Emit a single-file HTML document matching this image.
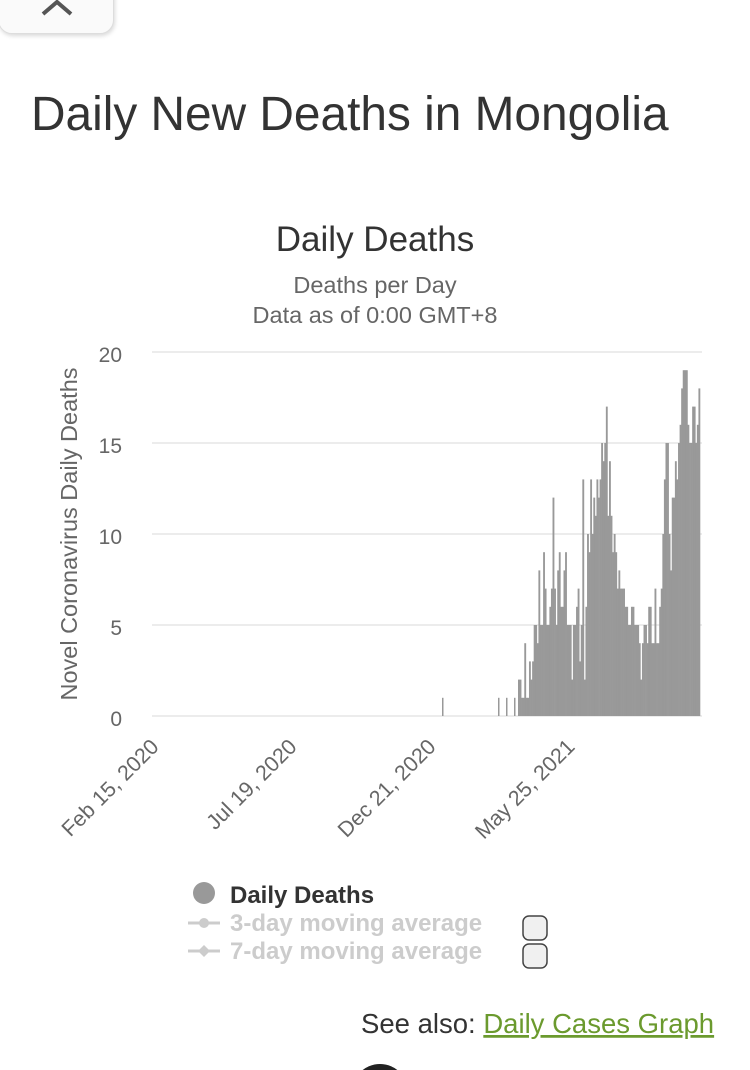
<!DOCTYPE html>
<html><head><meta charset="utf-8"><style>
body{margin:0;width:750px;height:1070px;background:#fff;position:relative;overflow:hidden;font-family:"Liberation Sans",Arial,sans-serif}
.abs{position:absolute;white-space:nowrap}
</style></head><body>
<div class="abs" style="left:-2px;top:-12px;width:114px;height:44px;border:1px solid #ddd;border-radius:0 0 14px 14px;background:#fafafa;box-shadow:1px 2px 4px rgba(0,0,0,.15)"></div>
<svg class="abs" style="left:40px;top:0" width="36" height="20"><polyline points="3,14 17,2 31,14" fill="none" stroke="#555" stroke-width="4"/></svg>
<div class="abs" style="left:31px;top:87px;font-size:47.8px;color:#333">Daily New Deaths in Mongolia</div>
<svg class="abs" style="left:0;top:0" width="750" height="1070" id="c">
<g stroke="#e6e6e6" stroke-width="1.5">
<line x1="152" x2="702" y1="352" y2="352"/><line x1="152" x2="702" y1="443" y2="443"/><line x1="152" x2="702" y1="534" y2="534"/><line x1="152" x2="702" y1="625" y2="625"/><line x1="152" x2="702" y1="716" y2="716"/>
</g>
<g font-size="21" fill="#666" text-anchor="end">
<text x="122" y="362">20</text><text x="122" y="453">15</text><text x="122" y="544">10</text><text x="122" y="635">5</text><text x="122" y="726">0</text>
</g>
<text x="0" y="0" font-size="23.5" fill="#666" text-anchor="middle" transform="translate(77,534) rotate(-90)">Novel Coronavirus Daily Deaths</text>
<text x="375" y="251" font-size="35" fill="#333" text-anchor="middle">Daily Deaths</text>
<text x="375" y="293" font-size="23.5" fill="#666" text-anchor="middle">Deaths per Day</text>
<text x="375" y="323" font-size="23.5" fill="#666" text-anchor="middle">Data as of 0:00 GMT+8</text>
<g font-size="21.5" fill="#666" text-anchor="end">
<text transform="translate(160,748) rotate(-45)">Feb 15, 2020</text>
<text transform="translate(298,748) rotate(-45)">Jul 19, 2020</text>
<text transform="translate(437,748) rotate(-45)">Dec 21, 2020</text>
<text transform="translate(576,748) rotate(-45)">May 25, 2021</text>
</g>
<g id="bars" fill="#999"></g>
<circle cx="204" cy="893" r="11" fill="#999"/>
<text x="230" y="903" font-size="24" font-weight="bold" fill="#333">Daily Deaths</text>
<g stroke="#ccc" stroke-width="3"><line x1="188" x2="220" y1="923" y2="923"/><line x1="188" x2="220" y1="951" y2="951"/></g>
<circle cx="204" cy="923" r="5" fill="#ccc"/><polygon points="204,945 210,951 204,957 198,951" fill="#ccc"/>
<text x="230" y="931" font-size="24" font-weight="bold" fill="#ccc">3-day moving average</text>
<text x="230" y="959" font-size="24" font-weight="bold" fill="#ccc">7-day moving average</text>
<rect x="523" y="916" width="24" height="24" rx="6" fill="#f0f0f0" stroke="#444" stroke-width="1.5"/>
<rect x="523" y="944" width="24" height="24" rx="6" fill="#f0f0f0" stroke="#444" stroke-width="1.5"/>
<text x="361" y="1033" font-size="27.5" fill="#333">See also: <tspan fill="#6b9a2e" text-decoration="underline">Daily Cases Graph</tspan></text>
<circle cx="380" cy="1092" r="28" fill="#222"/>
</svg>
<script>
var v=[2,2,1,1,4,1,1,3,2,3,5,5,4,8,5,5,9,7,5,5,6,7,12,7,5,8,9,6,6,8,9,5,5,5,2,5,5,6,7,3,5,13,2,6,10,9,13,10,12,11,13,12,13,15,14,15,17,11,14,11,9,10,9,7,8,7,7,7,6,6,5,5,6,6,5,5,5,4,2,4,5,5,4,6,6,4,4,7,4,4,6,7,10,13,15,15,10,8,12,12,14,13,15,16,18,19,19,19,16,15,15,17,17,15,16,18];
var g=document.getElementById('bars'),s='',w=182/v.length;
function b(x,wd,val){s+='<rect x="'+x+'" y="'+(716-val*18.2)+'" width="'+wd+'" height="'+(val*18.2)+'"/>';}
b(442,1.5,1);b(498,1.5,1);b(506,1.5,1);b(514,1.5,1);
for(var i=0;i<v.length;i++)b(518+i*w,w+0.3,v[i]);
g.innerHTML=s;
</script>
</body></html>
